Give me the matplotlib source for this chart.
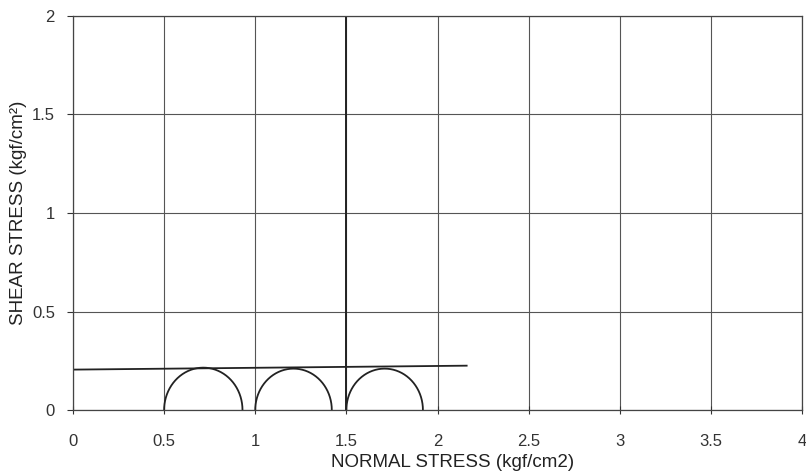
import numpy as np
import matplotlib
matplotlib.use("Agg")
import matplotlib.pyplot as plt

plt.rcParams['font.family'] = ['Liberation Sans', 'DejaVu Sans']

# Mohr circles: (sigma3, sigma1) for each test
sigma3 = [0.50, 1.00, 1.50]
sigma1 = [0.93, 1.42, 1.92]

# Failure envelope end points (normal stress, shear stress)
env_x = [0.0, 2.16]
env_y = [0.205, 0.225]

# Vertical reference line at normal stress 1.5
ref_x = 1.5
ref_y = [0.0, 2.0]

xticks = [0, 0.5, 1, 1.5, 2, 2.5, 3, 3.5, 4]
yticks = [0, 0.5, 1, 1.5, 2]

fig = plt.figure(figsize=(8.06, 4.73), dpi=100)
ax = fig.add_axes([73/806, 1-410/473, (802-73)/806, (410-16)/473])

ink = '#222222'
for s3, s1 in zip(sigma3, sigma1):
    c = (s1 + s3) / 2
    r = (s1 - s3) / 2
    t = np.linspace(0, np.pi, 200)
    ax.plot(c + r*np.cos(t), r*np.sin(t), color=ink, lw=1.3)

ax.plot(env_x, env_y, color=ink, lw=1.3)
ax.plot([ref_x, ref_x], ref_y, color=ink, lw=1.4)

ax.set_xlim(0, 4)
ax.set_ylim(0, 2)
ax.set_xticks(xticks)
ax.set_yticks(yticks)
ax.set_xticklabels([f"{v:g}" for v in xticks])
ax.set_yticklabels([f"{v:g}" for v in yticks])
ax.grid(True, color='#555555', lw=0.8)
for s in ax.spines.values():
    s.set_color('#444444')
    s.set_linewidth(0.9)
ax.tick_params(axis='x', direction='inout', length=6, pad=14, labelsize=12, colors='#333333')
ax.tick_params(axis='y', direction='out', length=4, pad=9, labelsize=12, colors='#333333')

ax.set_xlabel("NORMAL STRESS (kgf/cm2)", fontsize=13.5, color='#222222')
ax.set_ylabel("SHEAR STRESS (kgf/cm²)", fontsize=13.5, color='#222222')
ax.xaxis.set_label_coords((453-73)/729, -(454-410)/394)
ax.yaxis.set_label_coords(-(73-27)/729, 0.5)

fig.savefig("out.png", dpi=100)
